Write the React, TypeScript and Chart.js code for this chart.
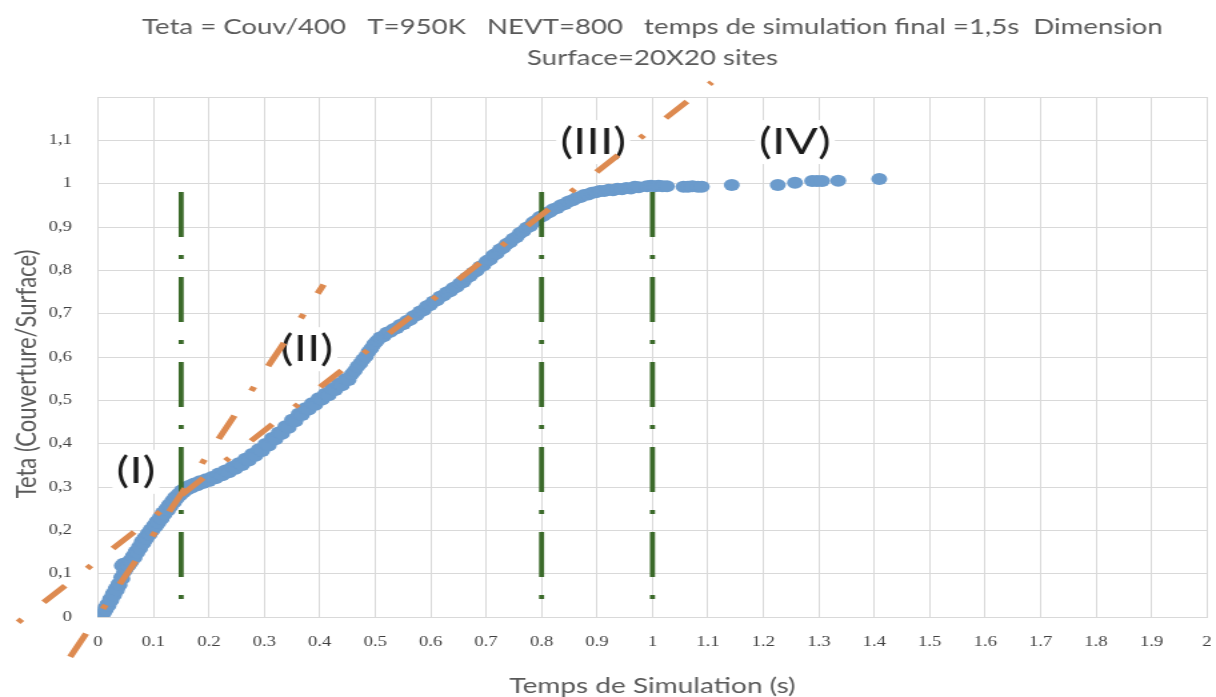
import { useEffect, useRef } from 'react';
import { Chart, registerables } from 'chart.js';

Chart.register(...registerables);

// Simulated coverage versus simulation time (one marker per recorded event)
const simTime = [
  0.000, 0.003, 0.005, 0.007, 0.010, 0.012, 0.014, 0.017, 0.019, 0.022,
  0.024, 0.027, 0.029, 0.032, 0.034, 0.037, 0.039, 0.042, 0.044, 0.043,
  0.046, 0.047, 0.050, 0.052, 0.055, 0.058, 0.060, 0.063, 0.066, 0.068,
  0.071, 0.074, 0.076, 0.079, 0.082, 0.084, 0.087, 0.090, 0.093, 0.095,
  0.098, 0.101, 0.104, 0.106, 0.109, 0.112, 0.115, 0.117, 0.120, 0.123,
  0.126, 0.128, 0.131, 0.134, 0.137, 0.139, 0.142, 0.145, 0.148, 0.151,
  0.154, 0.157, 0.161, 0.165, 0.169, 0.174, 0.179, 0.184, 0.189, 0.195,
  0.200, 0.206, 0.212, 0.218, 0.224, 0.230, 0.236, 0.242, 0.248, 0.254,
  0.260, 0.266, 0.272, 0.278, 0.284, 0.290, 0.296, 0.302, 0.308, 0.314,
  0.320, 0.326, 0.332, 0.338, 0.344, 0.350, 0.356, 0.362, 0.368, 0.374,
  0.380, 0.386, 0.392, 0.398, 0.404, 0.410, 0.416, 0.422, 0.428, 0.434,
  0.440, 0.446, 0.452, 0.458, 0.463, 0.468, 0.473, 0.478, 0.483, 0.488,
  0.493, 0.498, 0.503, 0.509, 0.515, 0.521, 0.527, 0.533, 0.539, 0.545,
  0.551, 0.557, 0.563, 0.569, 0.575, 0.581, 0.587, 0.593, 0.599, 0.605,
  0.611, 0.617, 0.623, 0.629, 0.635, 0.641, 0.647, 0.653, 0.659, 0.665,
  0.671, 0.677, 0.683, 0.689, 0.695, 0.701, 0.707, 0.713, 0.719, 0.725,
  0.731, 0.737, 0.743, 0.749, 0.755, 0.761, 0.767, 0.773, 0.779, 0.785,
  0.791, 0.797, 0.803, 0.809, 0.815, 0.821, 0.828, 0.835, 0.842, 0.849,
  0.856, 0.863, 0.870, 0.877, 0.884, 0.891, 0.898, 0.905, 0.913, 0.921,
  0.929, 0.937, 0.945, 0.953, 0.961, 0.968, 0.975, 0.990, 0.997, 1.004,
  1.011, 1.018, 1.026, 1.056, 1.064, 1.072, 1.082, 1.089, 1.143, 1.226,
  1.257, 1.288, 1.297, 1.306, 1.335, 1.409,
];

const teta = [
  0.000, 0.006, 0.001, 0.012, 0.008, 0.020, 0.016, 0.030, 0.026, 0.042,
  0.038, 0.054, 0.050, 0.066, 0.062, 0.077, 0.074, 0.092, 0.088, 0.118,
  0.123, 0.104, 0.110, 0.120, 0.118, 0.131, 0.127, 0.141, 0.137, 0.151,
  0.148, 0.162, 0.158, 0.174, 0.170, 0.183, 0.180, 0.193, 0.190, 0.202,
  0.199, 0.212, 0.208, 0.221, 0.217, 0.231, 0.227, 0.241, 0.237, 0.250,
  0.246, 0.259, 0.255, 0.268, 0.264, 0.277, 0.273, 0.284, 0.281, 0.292,
  0.288, 0.298, 0.294, 0.303, 0.299, 0.308, 0.304, 0.313, 0.309, 0.318,
  0.314, 0.323, 0.320, 0.331, 0.327, 0.338, 0.334, 0.346, 0.342, 0.355,
  0.351, 0.365, 0.361, 0.376, 0.372, 0.387, 0.383, 0.399, 0.396, 0.413,
  0.410, 0.426, 0.423, 0.440, 0.437, 0.455, 0.452, 0.469, 0.466, 0.482,
  0.479, 0.493, 0.490, 0.505, 0.502, 0.515, 0.512, 0.527, 0.524, 0.538,
  0.535, 0.549, 0.547, 0.561, 0.568, 0.578, 0.585, 0.594, 0.601, 0.612,
  0.620, 0.630, 0.637, 0.645, 0.648, 0.656, 0.658, 0.664, 0.667, 0.674,
  0.676, 0.683, 0.686, 0.694, 0.697, 0.705, 0.708, 0.717, 0.720, 0.728,
  0.731, 0.739, 0.742, 0.749, 0.752, 0.759, 0.762, 0.770, 0.773, 0.783,
  0.787, 0.795, 0.799, 0.808, 0.812, 0.821, 0.825, 0.835, 0.839, 0.848,
  0.852, 0.861, 0.865, 0.873, 0.877, 0.886, 0.890, 0.898, 0.902, 0.911,
  0.915, 0.923, 0.926, 0.932, 0.935, 0.941, 0.944, 0.950, 0.953, 0.959,
  0.962, 0.967, 0.969, 0.974, 0.975, 0.979, 0.980, 0.983, 0.983, 0.986,
  0.985, 0.988, 0.987, 0.990, 0.989, 0.993, 0.992, 0.994, 0.995, 0.994,
  0.995, 0.994, 0.994, 0.993, 0.993, 0.994, 0.993, 0.993, 0.997, 0.997,
  1.002, 1.006, 1.006, 1.006, 1.007, 1.011,
];

// Linear trend of phase (I): two end points of the fitted line
const trendOneX = [-0.05, 0.407];
const trendOneY = [-0.092, 0.767];

// Linear trend of phases (II)-(III)
const trendTwoX = [-0.144, 1.107];
const trendTwoY = [-0.012, 1.234];

// Phase boundaries (vertical markers) and their height
const boundaryTimes = [0.15, 0.8, 1.0];
const boundaryTop = 0.981;

// Phase annotations
const phaseNames = ['(I)', '(II)', '(III)', '(IV)'];
const phaseX = [0.0685, 0.377, 0.893, 1.257];
const phaseY = [0.335, 0.618, 1.096, 1.096];

const titleLines = [
  'Teta = Couv/400   T=950K   NEVT=800   temps de simulation final =1,5s  Dimension',
  'Surface=20X20 sites',
];
const xAxisTitle = 'Temps de Simulation (s)';
const yAxisTitle = 'Teta (Couverture/Surface)';

const BLUE = '#6b9bcc';
const ORANGE = '#dd8a50';
const GREEN = '#3b6a2a';
const GRID = '#d9d9d9';
const TEXT = '#595959';

const phaseLabelPlugin = {
  id: 'phaseLabels',
  beforeDatasetsDraw(chart: any) {
    const { ctx, scales } = chart;
    const xs = scales.x;
    const ys = scales.y;
    ctx.save();
    ctx.font = '36px Lato';
    ctx.textAlign = 'center';
    ctx.textBaseline = 'middle';
    phaseNames.forEach((name, i) => {
      const px = xs.getPixelForValue(phaseX[i]);
      const py = ys.getPixelForValue(phaseY[i]);
      const w = ctx.measureText(name).width;
      ctx.fillStyle = '#ffffff';
      ctx.fillRect(px - w / 2 - 3, py - 22, w + 6, 44);
      ctx.fillStyle = '#1a1a1a';
      ctx.fillText(name, px, py);
    });
    ctx.restore();
  },
};

const yTitlePlugin = {
  id: 'yTitle',
  afterDraw(chart: any) {
    const { ctx, chartArea } = chart;
    const cy = (chartArea.top + chartArea.bottom) / 2 + 17;
    ctx.save();
    ctx.translate(20.3, cy);
    ctx.rotate(-Math.PI / 2);
    ctx.font = '22px Lato';
    ctx.fillStyle = TEXT;
    ctx.textAlign = 'center';
    ctx.textBaseline = 'middle';
    ctx.fillText(yAxisTitle, 0, 0);
    ctx.restore();
  },
};

function lineDataset(xsv: number[], ysv: number[], color: string, width: number, dash: number[], order: number) {
  return {
    type: 'scatter' as const,
    data: xsv.map((x, i) => ({ x, y: ysv[i] })),
    showLine: true,
    borderColor: color,
    backgroundColor: color,
    borderWidth: width,
    borderDash: dash,
    borderCapStyle: 'butt' as const,
    pointRadius: 0,
    clip: false as any,
    order,
  };
}

export default function App() {
  const ref = useRef<HTMLCanvasElement>(null);

  useEffect(() => {
    const canvas = ref.current;
    if (!canvas) return;

    const datasets: any[] = [
      lineDataset(trendOneX, trendOneY, ORANGE, 5, [26, 27.8, 4.6, 23.2], 0),
      lineDataset(trendTwoX, trendTwoY, ORANGE, 5, [4, 23.7, 23, 24], 0),
      ...boundaryTimes.map((t) =>
        lineDataset([t, t], [boundaryTop, 0], GREEN, 3.8, [45, 18, 4, 18], 1)
      ),
      {
        type: 'scatter',
        data: simTime.map((x, i) => ({ x, y: teta[i] })),
        pointRadius: 6,
        pointBorderWidth: 0,
        backgroundColor: BLUE,
        borderColor: BLUE,
        order: 2,
      },
    ];

    const chart = new Chart(canvas, {
      type: 'scatter',
      data: { datasets },
      plugins: [phaseLabelPlugin, yTitlePlugin],
      options: {
        responsive: false,
        animation: false,
        devicePixelRatio: 1,
        events: [],
        layout: { padding: { left: 0, right: 6.75, top: 0, bottom: 0 } },
        plugins: {
          legend: { display: false },
          tooltip: { enabled: false },
          title: {
            display: true,
            fullSize: false,
            text: titleLines,
            color: TEXT,
            font: { family: 'Lato', size: 20.7, weight: 'normal', lineHeight: 31 / 20.7 },
            padding: { top: 11.5, bottom: 23.5 },
          },
        },
        scales: {
          x: {
            type: 'linear',
            min: 0,
            max: 2,
            afterFit: (s: any) => {
              s.height = 80;
              s.paddingLeft = 0;
              s.paddingRight = 0;
            },
            ticks: {
              stepSize: 0.1,
              autoSkip: false,
              maxRotation: 0,
              minRotation: 0,
              padding: 17,
              color: '#404040',
              font: { family: 'Liberation Serif', size: 14 },
              callback: (v: any) => String(Math.round(Number(v) * 10) / 10),
            },
            grid: { color: GRID, lineWidth: 1, drawTicks: false },
            border: { color: GRID, width: 1 },
            title: {
              display: true,
              text: xAxisTitle,
              color: TEXT,
              font: { family: 'Lato', size: 21, lineHeight: 1 },
              padding: { top: 0, bottom: 0 },
            },
          },
          y: {
            type: 'linear',
            min: 0,
            max: 1.2,
            afterFit: (s: any) => {
              s.width = 73.5;
              s.paddingTop = 0;
              s.paddingBottom = 0;
            },
            ticks: {
              stepSize: 0.1,
              padding: 19.5,
              color: '#404040',
              font: { family: 'Liberation Serif', size: 14 },
              callback: (v: any) => {
                const n = Math.round(Number(v) * 10) / 10;
                if (n > 1.15) return '';
                return String(n).replace('.', ',');
              },
            },
            grid: { color: GRID, lineWidth: 1, drawTicks: false },
            border: { color: GRID, width: 1 },
          },
        },
      },
    } as any);

    return () => chart.destroy();
  }, []);

  return (
    <div style={{ position: 'fixed', left: 0, top: 0, width: 1216, height: 697, background: '#ffffff' }}>
      <canvas
        ref={ref}
        width={912}
        height={697}
        style={{ width: '1216px', height: '697px', display: 'block' }}
      />
    </div>
  );
}
